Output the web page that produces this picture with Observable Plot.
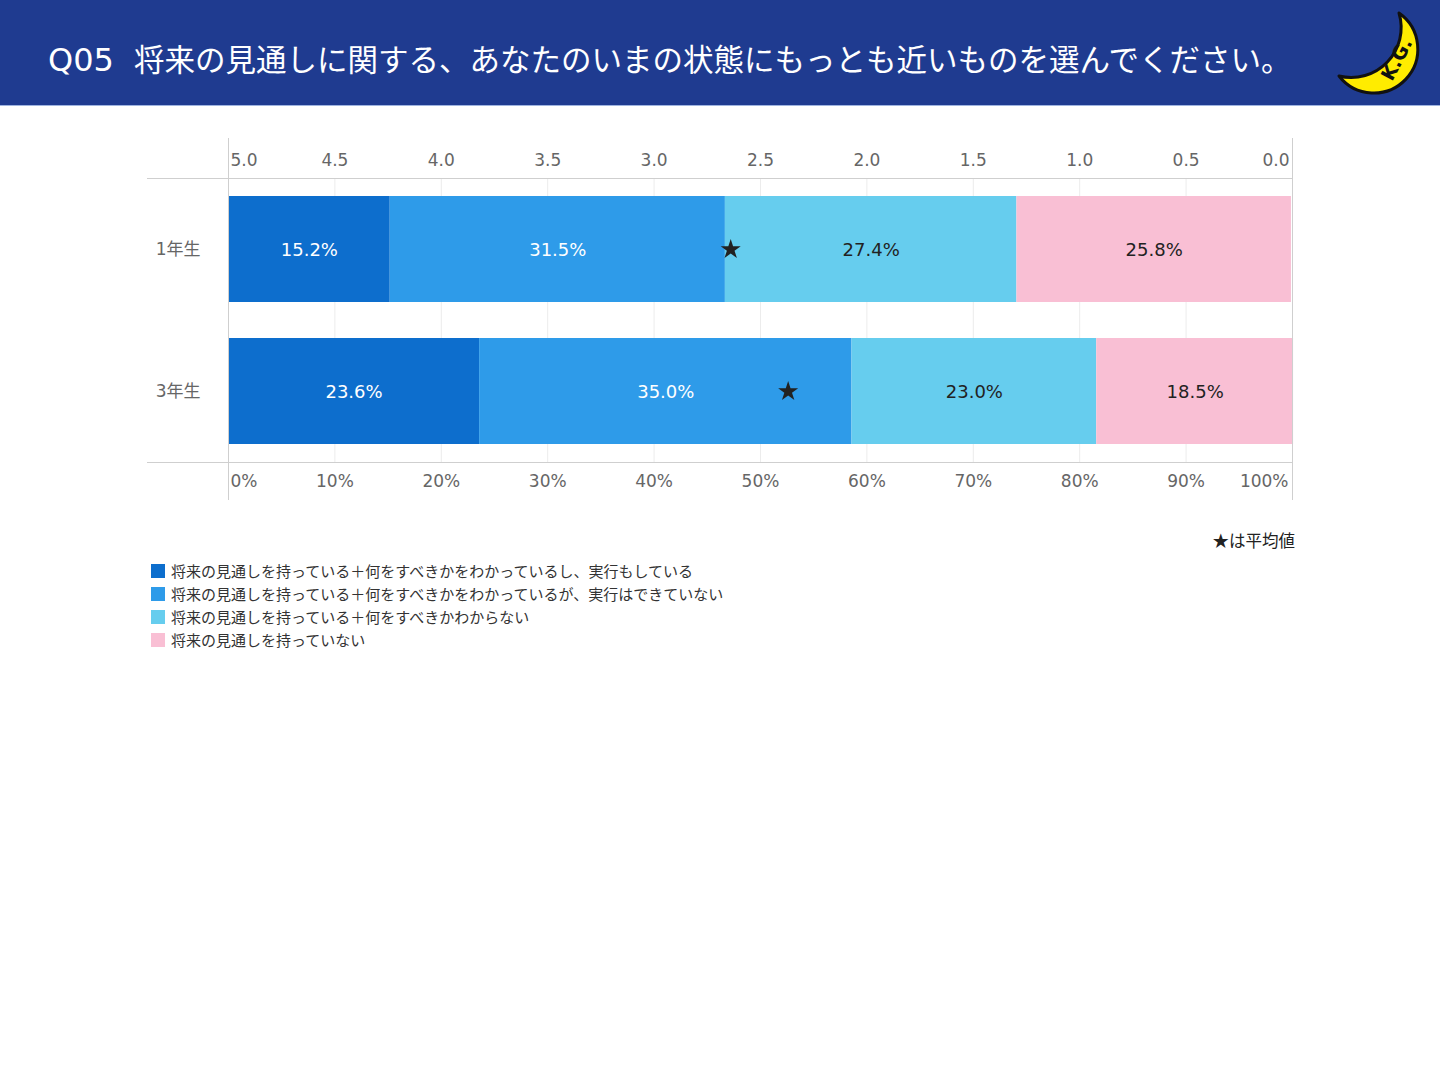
<!DOCTYPE html>
<html lang="ja">
<head>
<meta charset="utf-8">
<script src="https://cdn.jsdelivr.net/npm/d3@7"></script>
<script src="https://cdn.jsdelivr.net/npm/@observablehq/plot@0.6"></script>
<style>
  html, body { margin: 0; padding: 0; background: #fff; }
  #page { position: relative; width: 1440px; height: 1080px; overflow: hidden; font-family: "Noto Sans CJK JP", sans-serif; }
  #header { position: absolute; left: 0; top: 0; width: 1440px; height: 105px; background: #1f3b90; border-bottom: 1px solid #9fb4e0; }
  #title { position: absolute; left: 48px; top: 44px; line-height: 32px; font-size: 30.5px; color: #fff; white-space: nowrap; font-family: "DejaVu Sans", "Noto Sans CJK JP", sans-serif; }
  #title .q { margin-right: 20px; font-size: 32px; }
  #logo { position: absolute; left: 1320px; top: 0; }
  #chart { position: absolute; left: 0; top: 106px; }
  #note { position: absolute; right: 145px; top: 530px; font-size: 16.5px; line-height: 20px; color: #222; }
  #legend { position: absolute; left: 151px; top: 559px; font-size: 15px; color: #333; }
  .row { height: 23px; line-height: 23px; display: flex; align-items: center; white-space: nowrap; }
  .sw { width: 14px; height: 14px; margin-right: 6px; flex: none; }
</style>
</head>
<body>
<div id="page">
  <div id="header">
    <div id="title"></div>
    <svg id="logo" width="120" height="110" viewBox="0 0 120 110">
      <path d="M 79 13 A 44 44 0 1 1 19 76 A 50 50 0 0 0 79 13 Z" fill="#ffec00" stroke="#111" stroke-width="3" stroke-linejoin="round"/>
      <text x="0" y="0" transform="translate(72 82) rotate(-62)" font-family="DejaVu Sans, sans-serif" font-size="19" font-weight="bold" fill="#111">K.G.</text>
    </svg>
  </div>
  <div id="chart"></div>
  <div id="note">★は平均値</div>
  <div id="legend"></div>
</div>
<script>
const titleQ = "Q05";
const titleText = "将来の見通しに関する、あなたのいまの状態にもっとも近いものを選んでください。";
const groups = ["1年生", "3年生"];
const categories = [
  "将来の見通しを持っている＋何をすべきかをわかっているし、実行もしている",
  "将来の見通しを持っている＋何をすべきかをわかっているが、実行はできていない",
  "将来の見通しを持っている＋何をすべきかわからない",
  "将来の見通しを持っていない"
];
const values1 = [15.2, 31.5, 27.4, 25.8];
const values3 = [23.6, 35.0, 23.0, 18.5];
const means = [2.64, 2.37];
const colors = ["#0d6ecd", "#2e9be9", "#66cdee", "#f9bfd4"];
const topTicks = [5.0, 4.5, 4.0, 3.5, 3.0, 2.5, 2.0, 1.5, 1.0, 0.5, 0.0];
const bottomTicks = [0, 10, 20, 30, 40, 50, 60, 70, 80, 90, 100];

document.getElementById("title").innerHTML = `<span class="q">${titleQ}</span>${titleText}`;

const seriesValues = [values1, values3];
const data = groups.flatMap((g, gi) => seriesValues[gi].map((v, ci) => ({group: g, category: categories[ci], value: v, idx: ci})));
const meanData = groups.map((g, i) => ({group: g, mean: means[i]}));
const meanToPct = m => (5 - m) / 5 * 100;

const W = 1440, H = 420, ML = 228, MR = 148, MT = 72, MB = 64;
const font = '"DejaVu Sans", "Noto Sans CJK JP", sans-serif';
const lastIdx = bottomTicks.length - 1;

const plot = Plot.plot({
  width: W, height: H,
  marginLeft: ML, marginRight: MR, marginTop: MT, marginBottom: MB,
  style: {fontFamily: font, fontSize: "17px", background: "transparent", overflow: "visible"},
  x: {domain: [0, 100], axis: null},
  y: {domain: groups, paddingInner: 36 / 142, paddingOuter: 18 / 142, axis: null},
  color: {domain: categories, range: colors},
  marks: [
    Plot.ruleX(bottomTicks.slice(1, -1), {stroke: "#ececec"}),
    Plot.barX(data, Plot.stackX({x: "value", y: "group", fill: "category"})),
    Plot.text(data, Plot.stackX({x: "value", y: "group", text: d => d.idx < 2 ? d.value.toFixed(1) + "%" : null, fill: "white", fontSize: 18, dy: 1})),
    Plot.text(data, Plot.stackX({x: "value", y: "group", text: d => d.idx >= 2 ? d.value.toFixed(1) + "%" : null, fill: "#222", fontSize: 18, dy: 1})),
    Plot.dot(meanData, {x: d => meanToPct(d.mean), y: "group", symbol: "star", fill: "#222", r: 6.3}),
    Plot.ruleX([0, 100], {stroke: "#cfcfcf", insetTop: -40, insetBottom: -38}),
    // top axis (mean scale)
    Plot.text(topTicks, {filter: (d, i) => i === 0, x: d => meanToPct(d), text: d => d.toFixed(1), frameAnchor: "top", lineAnchor: "middle", dy: -18, dx: 2, textAnchor: "start", fill: "#666"}),
    Plot.text(topTicks, {filter: (d, i) => i > 0 && i < topTicks.length - 1, x: d => meanToPct(d), text: d => d.toFixed(1), frameAnchor: "top", lineAnchor: "middle", dy: -18, fill: "#666"}),
    Plot.text(topTicks, {filter: (d, i) => i === topTicks.length - 1, x: d => meanToPct(d), text: d => d.toFixed(1), frameAnchor: "top", lineAnchor: "middle", dy: -18, dx: -3, textAnchor: "end", fill: "#666"}),
    // bottom axis (percent)
    Plot.text(bottomTicks, {filter: (d, i) => i === 0, x: d => d, text: d => d + "%", frameAnchor: "bottom", lineAnchor: "middle", dy: 19, dx: 2, textAnchor: "start", fill: "#666"}),
    Plot.text(bottomTicks, {filter: (d, i) => i > 0 && i < lastIdx, x: d => d, text: d => d + "%", frameAnchor: "bottom", lineAnchor: "middle", dy: 19, fill: "#666"}),
    Plot.text(bottomTicks, {filter: (d, i) => i === lastIdx, x: d => d, text: d => d + "%", frameAnchor: "bottom", lineAnchor: "middle", dy: 19, dx: -4, textAnchor: "end", fill: "#666"}),
    // y labels
    Plot.text(groups, {y: d => d, text: d => d, frameAnchor: "left", textAnchor: "end", dx: -28, fill: "#666"})
  ]
});

// horizontal border lines at top and bottom of the plot frame, extending into the left margin
const svg = d3.select(plot);
const xr = plot.scale("x").range;
[MT, H - MB].forEach(yy => {
  svg.append("line")
    .attr("x1", 147).attr("x2", xr[1])
    .attr("y1", yy + 0.5).attr("y2", yy + 0.5)
    .attr("stroke", "#cfcfcf");
});

document.getElementById("chart").appendChild(plot);

const legend = d3.select("#legend");
categories.forEach((c, i) => {
  const row = legend.append("div").attr("class", "row");
  row.append("div").attr("class", "sw").style("background", colors[i]);
  row.append("span").text(c);
});
</script>
</body>
</html>
